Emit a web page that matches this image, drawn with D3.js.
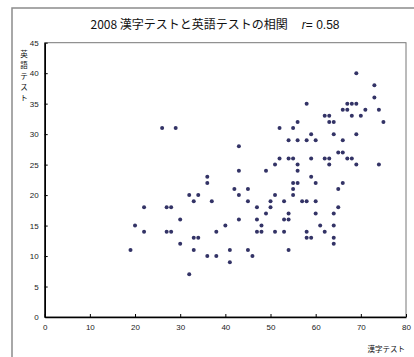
<!DOCTYPE html>
<html><head><meta charset="utf-8">
<script src="https://cdn.jsdelivr.net/npm/d3@7"></script>
<style>
html,body{margin:0;padding:0;background:#fff;}
svg{display:block;}
</style></head>
<body>
<svg id="c" width="414" height="357"></svg>
<script>
// 漢字テスト scores
const kanji = [26,29,43,43,36,
69,73,73,58,67,68,69,66,67,71,74,62,63,68,70,56,63,64,75,52,55,59,64,69,54,56,58,60,66,65,66,52,54,55,59,62,63,67,68,51,56,63,69,74,49,56,59,
55,56,60,66,55,65,51,55,50,53,57,58,60,47,50,65,49,54,60,64,47,53,54,48,61,64,47,48,51,53,58,62,58,59,64,64,54,
36,42,45,32,34,43,33,37,45,22,27,28,30,43,20,40,22,27,28,38,33,34,30,19,33,41,45,36,38,46,41,32];
// 英語テスト scores
const eigo = [31,31,28,24,23,
40,38,36,35,35,35,35,34,34,34,34,33,33,33,33,32,32,32,32,31,31,30,30,30,29,29,29,29,29,27,27,26,26,26,26,26,26,26,26,25,25,25,25,25,24,24,23,
22,22,22,22,21,21,20,20,19,19,19,19,19,18,18,18,17,17,17,17,16,16,16,15,15,15,14,14,14,14,14,14,13,13,13,12,11,
22,21,21,20,20,20,19,19,19,18,18,18,16,16,15,15,14,14,14,14,13,13,12,11,11,11,11,10,10,10,9,7];
const xTicks = [0,10,20,30,40,50,60,70,80];
const yTicks = [0,5,10,15,20,25,30,35,40,45];
const titleMain = "2008 漢字テストと英語テストの相関";
const titleR = "r";
const titleRVal = "= 0.58";
const xLabel = "漢字テスト";
const yLabel = "英語テスト";

const svg = d3.select("#c");
const L = 44.7, R = 406, T = 42.7, B = 317;
const x = d3.scaleLinear().domain([0,80]).range([L,R]);
const y = d3.scaleLinear().domain([0,45]).range([B,T]);
const cjk = "'Noto Sans CJK JP','Noto Sans',sans-serif";
const num = "'Liberation Sans',Arial,sans-serif";

// outer frame
svg.append("rect").attr("x",12).attr("y",8).attr("width",420).attr("height",360)
  .attr("fill","#fff").attr("stroke","#8c8c8c").attr("stroke-width",1.5);

// plot area
svg.append("rect").attr("x",L).attr("y",T).attr("width",R-L).attr("height",B-T)
  .attr("fill","#fff").attr("stroke","#777").attr("stroke-width",1);

// title
const t = svg.append("text").attr("x",215).attr("y",29).attr("text-anchor","middle")
  .attr("font-family",cjk).attr("font-size",12).attr("fill","#111");
t.append("tspan").text(titleMain);
t.append("tspan").attr("dx",14).attr("font-style","italic").attr("font-family",num).text(titleR);
t.append("tspan").attr("font-family",num).text(titleRVal);

// axes
const xa = svg.append("g").attr("transform",`translate(0,${B})`)
  .call(d3.axisBottom(x).tickValues(xTicks).tickSizeInner(-3).tickSizeOuter(0).tickPadding(7));
const ya = svg.append("g").attr("transform",`translate(${L},0)`)
  .call(d3.axisLeft(y).tickValues(yTicks).tickSizeInner(-3).tickSizeOuter(0).tickPadding(6));
[xa,ya].forEach(g=>{
  g.select(".domain").attr("stroke","#000").attr("stroke-width",1.6);
  g.selectAll(".tick line").attr("stroke","#000");
  g.selectAll(".tick text").attr("font-family",num).attr("font-size",8).attr("fill","#222");
});

// axis titles
svg.append("text").attr("x",405).attr("y",352).attr("text-anchor","end")
  .attr("font-family",cjk).attr("font-size",7.5).attr("fill","#111").text(xLabel);
const yl = svg.append("text").attr("font-family",cjk).attr("font-size",7.5).attr("fill","#111")
  .attr("text-anchor","middle");
Array.from(yLabel).forEach((ch,i)=>{
  yl.append("tspan").attr("x",24).attr("y",57 + i*11).text(ch);
});

// points
svg.append("g").selectAll("circle").data(kanji.map((k,i)=>[k,eigo[i]])).join("circle")
  .attr("cx",d=>x(d[0])).attr("cy",d=>y(d[1])).attr("r",2)
  .attr("fill","#333366");
</script>
</body></html>
